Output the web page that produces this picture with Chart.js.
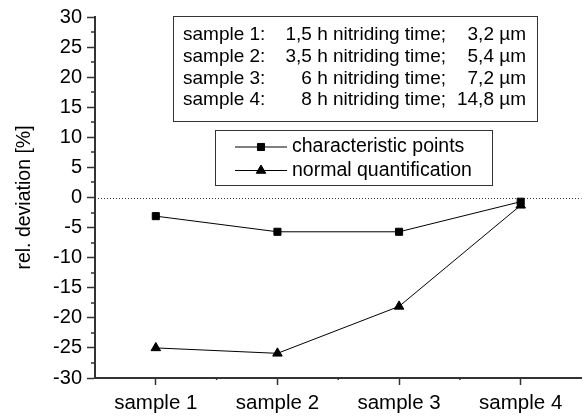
<!DOCTYPE html>
<html>
<head>
<meta charset="utf-8">
<script src="https://cdn.jsdelivr.net/npm/chart.js@4.4.1/dist/chart.umd.min.js"></script>
<style>
  body { margin: 0; background: #fff; }
  #wrap { width: 588px; height: 416px; }
</style>
</head>
<body>
<div id="wrap"><canvas id="devChart" width="588" height="416"></canvas></div>
<script>
// data
const samples = ['sample 1', 'sample 2', 'sample 3', 'sample 4'];
const charPoints = [-3.1, -5.7, -5.7, -0.7];
const normalQuant = [-25.0, -25.9, -18.1, -1.3];
const yMin = -30;
const yMax = 30;
const yStep = 5;

// info table in the upper box
const infoSample = ['sample 1:', 'sample 2:', 'sample 3:', 'sample 4:'];
const infoTime = ['1,5 h nitriding time;', '3,5 h nitriding time;', '6 h nitriding time;', '8 h nitriding time;'];
const infoDepth = ['3,2 µm', '5,4 µm', '7,2 µm', '14,8 µm'];

Chart.defaults.font.family = 'Arial, "Liberation Sans", sans-serif';
Chart.defaults.color = '#000';

const axisColor = '#333';

// dotted zero line + minor ticks
const zeroLine = {
    id: 'zeroLine',
    beforeDatasetsDraw(chart) {
        const ctx = chart.ctx;
        const area = chart.chartArea;
        const y = chart.scales.y.getPixelForValue(0);
        ctx.save();
        ctx.strokeStyle = '#333';
        ctx.lineWidth = 1;
        ctx.setLineDash([1, 2]);
        ctx.beginPath();
        ctx.moveTo(area.left, Math.round(y) + 0.5);
        ctx.lineTo(area.right, Math.round(y) + 0.5);
        ctx.stroke();
        ctx.restore();
    },
    afterDraw(chart) {
        const ctx = chart.ctx;
        const area = chart.chartArea;
        const ys = chart.scales.y;
        const xs = chart.scales.x;
        ctx.save();
        ctx.strokeStyle = axisColor;
        ctx.lineWidth = 1.5;
        ctx.beginPath();
        for (let v = yMin + yStep / 2; v < yMax; v += yStep) {
            const p = Math.round(ys.getPixelForValue(v));
            ctx.moveTo(area.left - 4, p);
            ctx.lineTo(area.left, p);
        }
        for (let i = 0; i < samples.length - 1; i++) {
            const p = (xs.getPixelForValue(i) + xs.getPixelForValue(i + 1)) / 2;
            ctx.moveTo(p, area.bottom);
            ctx.lineTo(p, area.bottom + 2);
        }
        ctx.stroke();
        ctx.restore();
    }
};

// the two boxes inside the plot
const boxes = {
    id: 'boxes',
    afterDraw(chart) {
        const ctx = chart.ctx;
        ctx.save();
        ctx.fillStyle = '#fff';
        ctx.strokeStyle = '#333';
        ctx.lineWidth = 1;

        // info box
        ctx.fillRect(173, 16, 364, 105);
        ctx.strokeRect(173.5, 16.5, 364, 105);
        ctx.fillStyle = '#000';
        ctx.font = '19px Arial, "Liberation Sans", sans-serif';
        ctx.textBaseline = 'middle';
        for (let i = 0; i < infoSample.length; i++) {
            const y = 35 + i * 21.7;
            ctx.textAlign = 'left';
            ctx.fillText(infoSample[i], 183, y);
            ctx.textAlign = 'right';
            ctx.fillText(infoTime[i], 446, y);
            ctx.fillText(infoDepth[i], 526, y);
        }

        // series legend
        ctx.fillStyle = '#fff';
        ctx.fillRect(215, 130, 277, 55);
        ctx.strokeRect(215.5, 130.5, 277, 55);
        ctx.font = '19.5px Arial, "Liberation Sans", sans-serif';
        ctx.textAlign = 'left';
        chart.data.datasets.forEach(function(ds, i) {
            const y = 147 + i * 23.5;
            ctx.strokeStyle = '#000';
            ctx.fillStyle = '#000';
            ctx.lineWidth = 1;
            ctx.beginPath();
            ctx.moveTo(235, y);
            ctx.lineTo(287, y);
            ctx.stroke();
            Chart.helpers.drawPoint(ctx, {
                pointStyle: ds.pointStyle,
                radius: ds.pointRadius,
                rotation: 0,
                borderWidth: 1
            }, 261, y);
            ctx.fillText(ds.label, 292, y);
        });
        ctx.restore();
    }
};

const ctx = document.getElementById('devChart').getContext('2d');

new Chart(ctx, {
    type: 'line',
    data: {
        labels: samples,
        datasets: [{
            label: 'characteristic points',
            data: charPoints,
            borderColor: '#000',
            backgroundColor: '#000',
            borderWidth: 1,
            pointStyle: 'rect',
            pointRadius: 5,
            pointBorderWidth: 1
        }, {
            label: 'normal quantification',
            data: normalQuant,
            borderColor: '#000',
            backgroundColor: '#000',
            borderWidth: 1,
            pointStyle: 'triangle',
            pointRadius: 5.5,
            pointBorderWidth: 1
        }]
    },
    options: {
        responsive: false,
        animation: false,
        layout: {
            padding: { top: 15, right: 0, bottom: 0, left: 0 }
        },
        plugins: {
            legend: { display: false },
            tooltip: { enabled: false }
        },
        scales: {
            x: {
                offset: true,
                grid: {
                    drawOnChartArea: false,
                    tickLength: 7,
                    tickColor: axisColor,
                    tickWidth: 1.5
                },
                border: { color: axisColor, width: 2 },
                ticks: {
                    font: { size: 20.5 },
                    padding: 6,
                    maxRotation: 0
                },
                afterFit: function(scale) {
                    scale.height = 38;
                }
            },
            y: {
                min: yMin,
                max: yMax,
                grid: {
                    drawOnChartArea: false,
                    tickLength: 8,
                    tickColor: axisColor,
                    tickWidth: 1.5
                },
                border: { color: axisColor, width: 2 },
                ticks: {
                    stepSize: yStep,
                    font: { size: 20 },
                    padding: 5
                },
                title: {
                    display: true,
                    text: 'rel. deviation [%]',
                    font: { size: 19.5 },
                    padding: { top: 13, bottom: 0 }
                },
                afterFit: function(scale) {
                    scale.width = 95;
                }
            }
        }
    },
    plugins: [zeroLine, boxes]
});
</script>
</body>
</html>
